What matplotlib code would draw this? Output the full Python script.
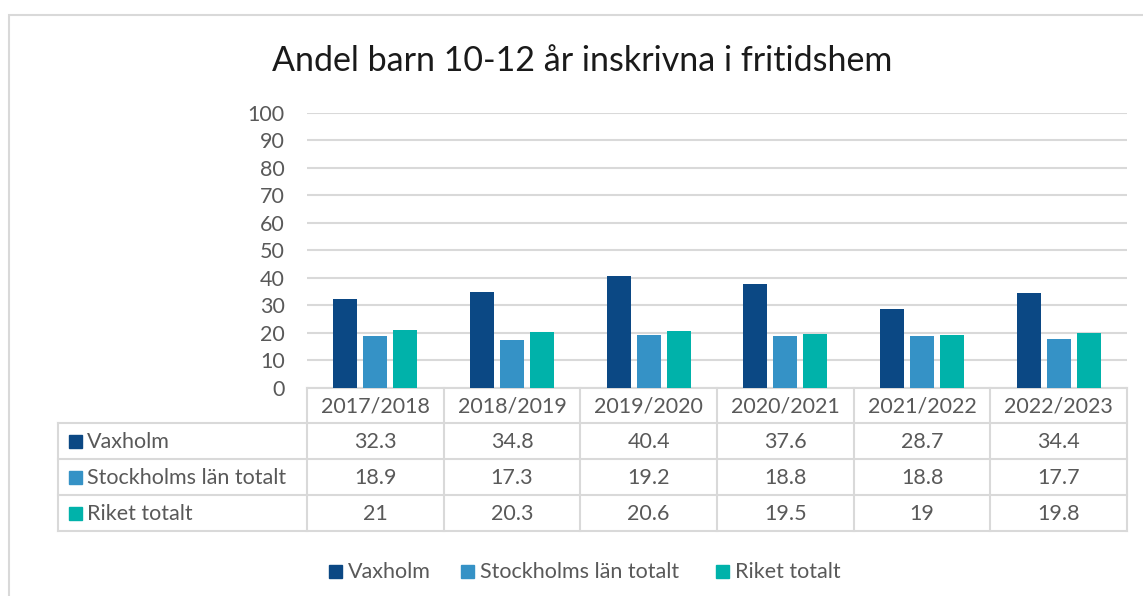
import matplotlib.pyplot as plt
from matplotlib.patches import Rectangle
import numpy as np

# Data
years = ['2017/2018', '2018/2019', '2019/2020', '2020/2021', '2021/2022', '2022/2023']
series_names = ['Vaxholm', 'Stockholms län totalt', 'Riket totalt']
vaxholm = [32.3, 34.8, 40.4, 37.6, 28.7, 34.4]
stockholm = [18.9, 17.3, 19.2, 18.8, 18.8, 17.7]
riket = [21, 20.3, 20.6, 19.5, 19, 19.8]
value_labels = [
    ['32.3', '34.8', '40.4', '37.6', '28.7', '34.4'],
    ['18.9', '17.3', '19.2', '18.8', '18.8', '17.7'],
    ['21', '20.3', '20.6', '19.5', '19', '19.8'],
]
colors = ['#0B4884', '#3592C6', '#00B2AA']

W, H = 1143, 596
plt.rcParams['font.family'] = ['Lato', 'DejaVu Sans']
txt = '#595959'
grid = '#D9D9D9'
fs = 15.5

fig = plt.figure(figsize=(W / 100, H / 100), dpi=100)

def fx(px):
    return px / W

def fy(py):
    return 1 - py / H

# outer chart frame
fig.patches.append(Rectangle((fx(9), fy(700)), fx(1200), 700 / H - 14.5 / H,
                             transform=fig.transFigure, fill=False,
                             edgecolor=grid, lw=1.5))

# plot area
x0, x1 = 307, 1127
y0, y1 = 387.5, 112.7
ax = fig.add_axes([fx(x0), fy(y0), fx(x1 - x0), (y0 - y1) / H])
n = len(years)
x = np.arange(n) + 0.5
bw = 24 / 137
step = 30 / 137
for i, vals in enumerate([vaxholm, stockholm, riket]):
    ax.bar(x + (i - 1) * step, vals, width=bw, color=colors[i], zorder=3)
ax.set_xlim(0, n)
ax.set_ylim(0, 100)
ax.set_yticks(range(0, 101, 10))
ax.tick_params(axis='y', length=0, labelsize=fs, labelcolor=txt, pad=16)
ax.set_xticks([])
ax.grid(axis='y', color=grid, lw=1.5, zorder=0)
for s in ['top', 'right', 'left']:
    ax.spines[s].set_visible(False)
ax.spines['bottom'].set_color(grid)
ax.spines['bottom'].set_linewidth(1.5)

# data table
tab = fig.add_axes([0, 0, 1, 1], zorder=5)
tab.set_xlim(0, W)
tab.set_ylim(H, 0)
tab.axis('off')
cell_w = (x1 - x0) / n
rows = [387.5, 423, 459, 495, 531]
for r in rows[1:]:
    tab.plot([58, x1], [r, r], color=grid, lw=1.5)
tab.plot([58, 58], [rows[1], rows[-1]], color=grid, lw=1.5)
for k in range(n + 1):
    xx = x0 + k * cell_w
    tab.plot([xx, xx], [rows[0], rows[-1]], color=grid, lw=1.5)
for k, yr in enumerate(years):
    tab.text(x0 + (k + 0.5) * cell_w, (rows[0] + rows[1]) / 2 + 1, yr,
             ha='center', va='center', fontsize=fs, color=txt)
for j, name in enumerate(series_names):
    yc = (rows[j + 1] + rows[j + 2]) / 2
    tab.add_patch(Rectangle((69, yc - 6.5), 13, 13, color=colors[j]))
    tab.text(87, yc + 1, name, ha='left', va='center', fontsize=fs, color=txt)
    for k in range(n):
        tab.text(x0 + (k + 0.5) * cell_w, yc + 1, value_labels[j][k],
                 ha='center', va='center', fontsize=fs, color=txt)

# legend
lx = [329, 461, 716]
for j, name in enumerate(series_names):
    tab.add_patch(Rectangle((lx[j], 565), 13, 13, color=colors[j]))
    tab.text(lx[j] + 19, 572, name, ha='left', va='center', fontsize=fs, color=txt)

# title
tab.text(582, 61, 'Andel barn 10-12 år inskrivna i fritidshem', ha='center',
         va='center', fontsize=24.5, color='#1A1A1A')

fig.savefig('out.png', dpi=100)
